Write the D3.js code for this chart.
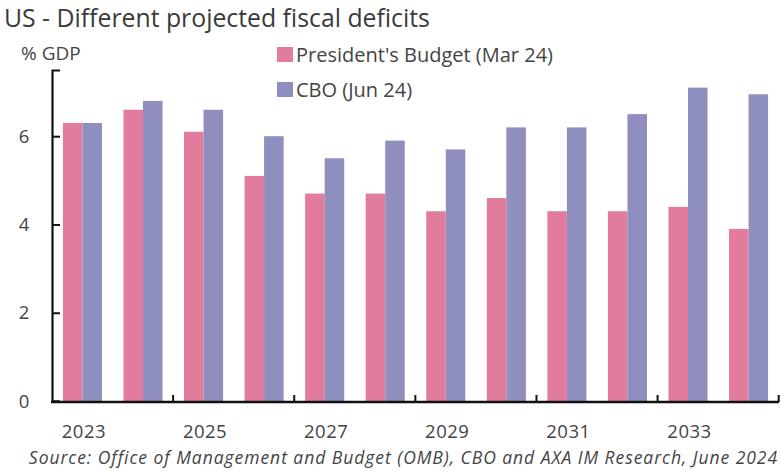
<!DOCTYPE html>
<html><head><meta charset="utf-8">
<script src="https://cdn.jsdelivr.net/npm/d3@7"></script>
<style>
html,body{margin:0;padding:0;background:#fff;}
svg text{font-family:"Open Sans",sans-serif;}
</style></head>
<body>
<svg id="chart" width="781" height="472"></svg>
<script>
const years = [2023,2024,2025,2026,2027,2028,2029,2030,2031,2032,2033,2034];
const presidentsBudget = [6.3,6.6,6.1,5.1,4.7,4.7,4.3,4.6,4.3,4.3,4.4,3.9];
const cbo = [6.3,6.8,6.6,6.0,5.5,5.9,5.7,6.2,6.2,6.5,7.1,6.95];
const seriesNames = ["President's Budget (Mar 24)", "CBO (Jun 24)"];
const seriesColors = ["#e17c9d", "#8e8ebf"];
const yTicks = [0,2,4,6];
const xTickLabels = ["2023","2025","2027","2029","2031","2033"];

const svg = d3.select("#chart");
const mLeft = 52, mRight = 779, mTop = 70, mBottom = 401;

const x = d3.scaleBand().domain(years.map(String)).range([mLeft, mRight]).paddingInner(0.355).paddingOuter(0.18);
const xs = d3.scaleBand().domain(seriesNames).range([0, x.bandwidth()]);
const y = d3.scaleLinear().domain([0, 7.5]).range([mBottom, mTop]);

const data = [presidentsBudget, cbo];
seriesNames.forEach((name, si) => {
  svg.append("g").selectAll("rect").data(years).join("rect")
    .attr("x", (d) => x(String(d)) + xs(name))
    .attr("y", (d, i) => y(data[si][i]))
    .attr("width", xs.bandwidth())
    .attr("height", (d, i) => y(0) - y(data[si][i]))
    .attr("fill", seriesColors[si]);
});

// Y axis
const yAxis = d3.axisRight(y).tickValues(yTicks).tickSize(8).tickFormat("");
const gy = svg.append("g").attr("transform", `translate(${mLeft},0)`).call(yAxis);
gy.select(".domain").attr("stroke", "#111").attr("stroke-width", 2.2);
gy.selectAll(".tick line").attr("stroke", "#111").attr("stroke-width", 2);
svg.append("g").selectAll("text").data(yTicks).join("text")
  .attr("x", 24).attr("y", (d) => y(d) + 6.5)
  .attr("text-anchor", "middle")
  .attr("font-size", 18.5).attr("fill", "#444")
  .text((d) => d);

// X axis line and ticks (ticks at boundaries every 2 categories)
const step = x.step();
const boundaryTicks = d3.range(0, years.length + 1, 2).map((i) => mLeft + i * step);
svg.append("line").attr("x1", mLeft - 1).attr("x2", mRight).attr("y1", mBottom + 1).attr("y2", mBottom + 1)
  .attr("stroke", "#111").attr("stroke-width", 2.4);
svg.append("g").selectAll("line").data(boundaryTicks.slice(1)).join("line")
  .attr("x1", (d) => d).attr("x2", (d) => d).attr("y1", mBottom + 1).attr("y2", mBottom - 6)
  .attr("stroke", "#111").attr("stroke-width", 2);

svg.append("g").selectAll("text").data(xTickLabels).join("text")
  .attr("x", (d) => x(d) + x.bandwidth() / 2 + 1.5)
  .attr("y", 438)
  .attr("text-anchor", "middle")
  .attr("font-size", 18.5).attr("letter-spacing", 0.5).attr("fill", "#444")
  .text((d) => d);

// Title
svg.append("text").attr("x", 4).attr("y", 27).attr("font-size", 24.8).attr("fill", "#3a3a3a")
  .text("US - Different projected fiscal deficits");
svg.append("text").attr("x", 21).attr("y", 60).attr("font-size", 19).attr("fill", "#444")
  .text("% GDP");

// Legend
seriesNames.forEach((name, i) => {
  const ly = 47 + i * 35;
  svg.append("rect").attr("x", 277).attr("y", ly).attr("width", 16).attr("height", 15).attr("fill", seriesColors[i]);
  svg.append("text").attr("x", 296).attr("y", ly + 15).attr("font-size", 20).attr("fill", "#444").text(name);
});

// Source
svg.append("text").attr("x", 778).attr("y", 464).attr("text-anchor", "end")
  .attr("font-size", 17.5).attr("letter-spacing", 0.95).attr("font-style", "italic").attr("fill", "#444")
  .text("Source: Office of Management and Budget (OMB), CBO and AXA IM Research, June 2024");
</script>
</body></html>
